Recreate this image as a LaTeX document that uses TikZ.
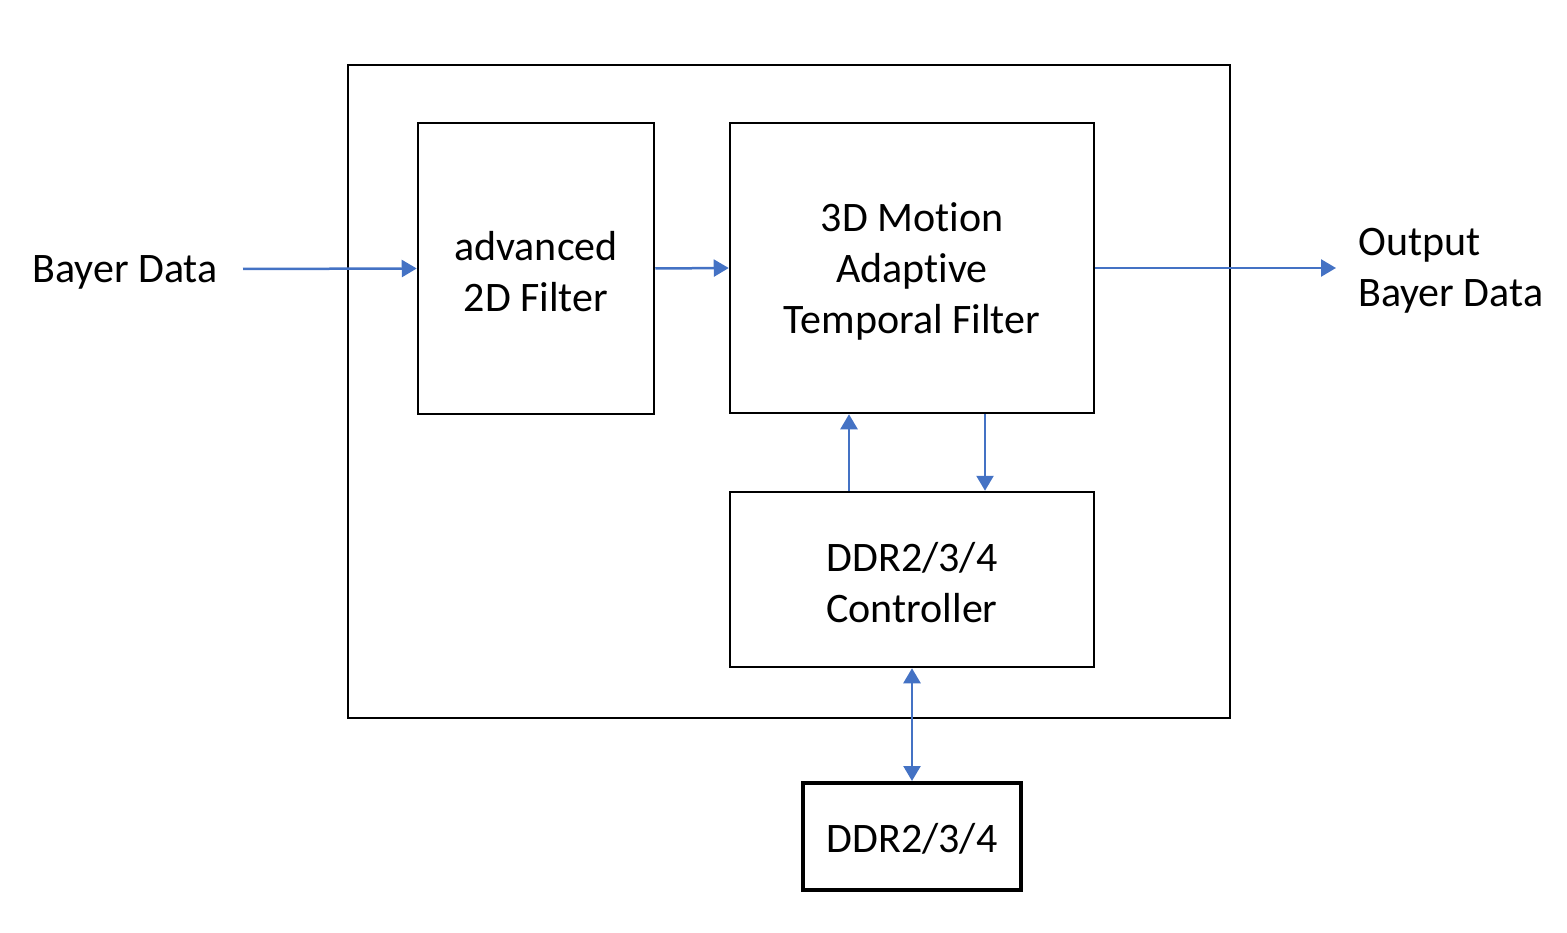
\documentclass[tikz,border=0pt]{standalone}
\usepackage{fontspec}
\setmainfont[Ligatures=NoCommon]{Carlito}
\usetikzlibrary{arrows.meta}
\definecolor{arrowblue}{HTML}{4472C4}
\begin{document}
\begin{tikzpicture}[x=1pt,y=-1pt,
  box/.style={draw=black,line width=2.5pt,fill=none,inner sep=0pt},
  txt/.style={inner sep=0pt,align=center,font=\fontsize{42}{51}\selectfont},
  lbl/.style={inner sep=0pt,align=left,font=\fontsize{42}{51}\selectfont},
  conn/.style={draw=arrowblue,line width=2.5pt,-{Triangle[length=15pt,width=17pt]}},
  dconn/.style={draw=arrowblue,line width=2.5pt,{Triangle[length=15pt,width=17pt]}-{Triangle[length=15pt,width=17pt]}}]
\useasboundingbox (0,0) rectangle (1567,933);
\node[box,minimum width=882pt,minimum height=653pt] (outer) at (789,391.5) {};
\node[box,minimum width=236pt,minimum height=291pt] (filter) at (536,268.5) {};
\node[box,minimum width=364pt,minimum height=290pt] (motion) at (912,268) {};
\node[box,minimum width=364pt,minimum height=175pt] (ctrl) at (912,579.5) {};
\node[box,line width=4pt,minimum width=218pt,minimum height=107pt] (ddr) at (912,836.5) {};
\node[txt] (filtertext) at ([yshift=-3pt]filter.center) {advanced\\2D Filter};
\node[txt] (motiontext) at ([yshift=-3pt]motion.center) {3D Motion\\Adaptive\\Temporal Filter};
\node[txt] (ctrltext) at ([yshift=-3pt]ctrl.center) {DDR2/3/4\\Controller};
\node[txt] (ddrtext) at ([yshift=-2pt]ddr.center) {DDR2/3/4};
\node[lbl] (bayer) at (125,272) {Bayer Data};
\node[lbl,anchor=west] (out) at (1358,271) {Output\\Bayer Data};
\coordinate (in) at (243,269);
\coordinate (outend) at (1336,268);
\coordinate (xa) at (849,0);
\coordinate (xb) at (985,0);
\draw[conn] (in) -- (filter.west);
\draw[conn] (filter.east) -- (motion.west);
\draw[conn] (motion.east) -- (outend);
\draw[conn] (ctrl.north -| xa) -- (motion.south -| xa);
\draw[conn] (motion.south -| xb) -- (ctrl.north -| xb);
\draw[dconn] (ctrl.south) -- (ddr.north);
\end{tikzpicture}
\end{document}
